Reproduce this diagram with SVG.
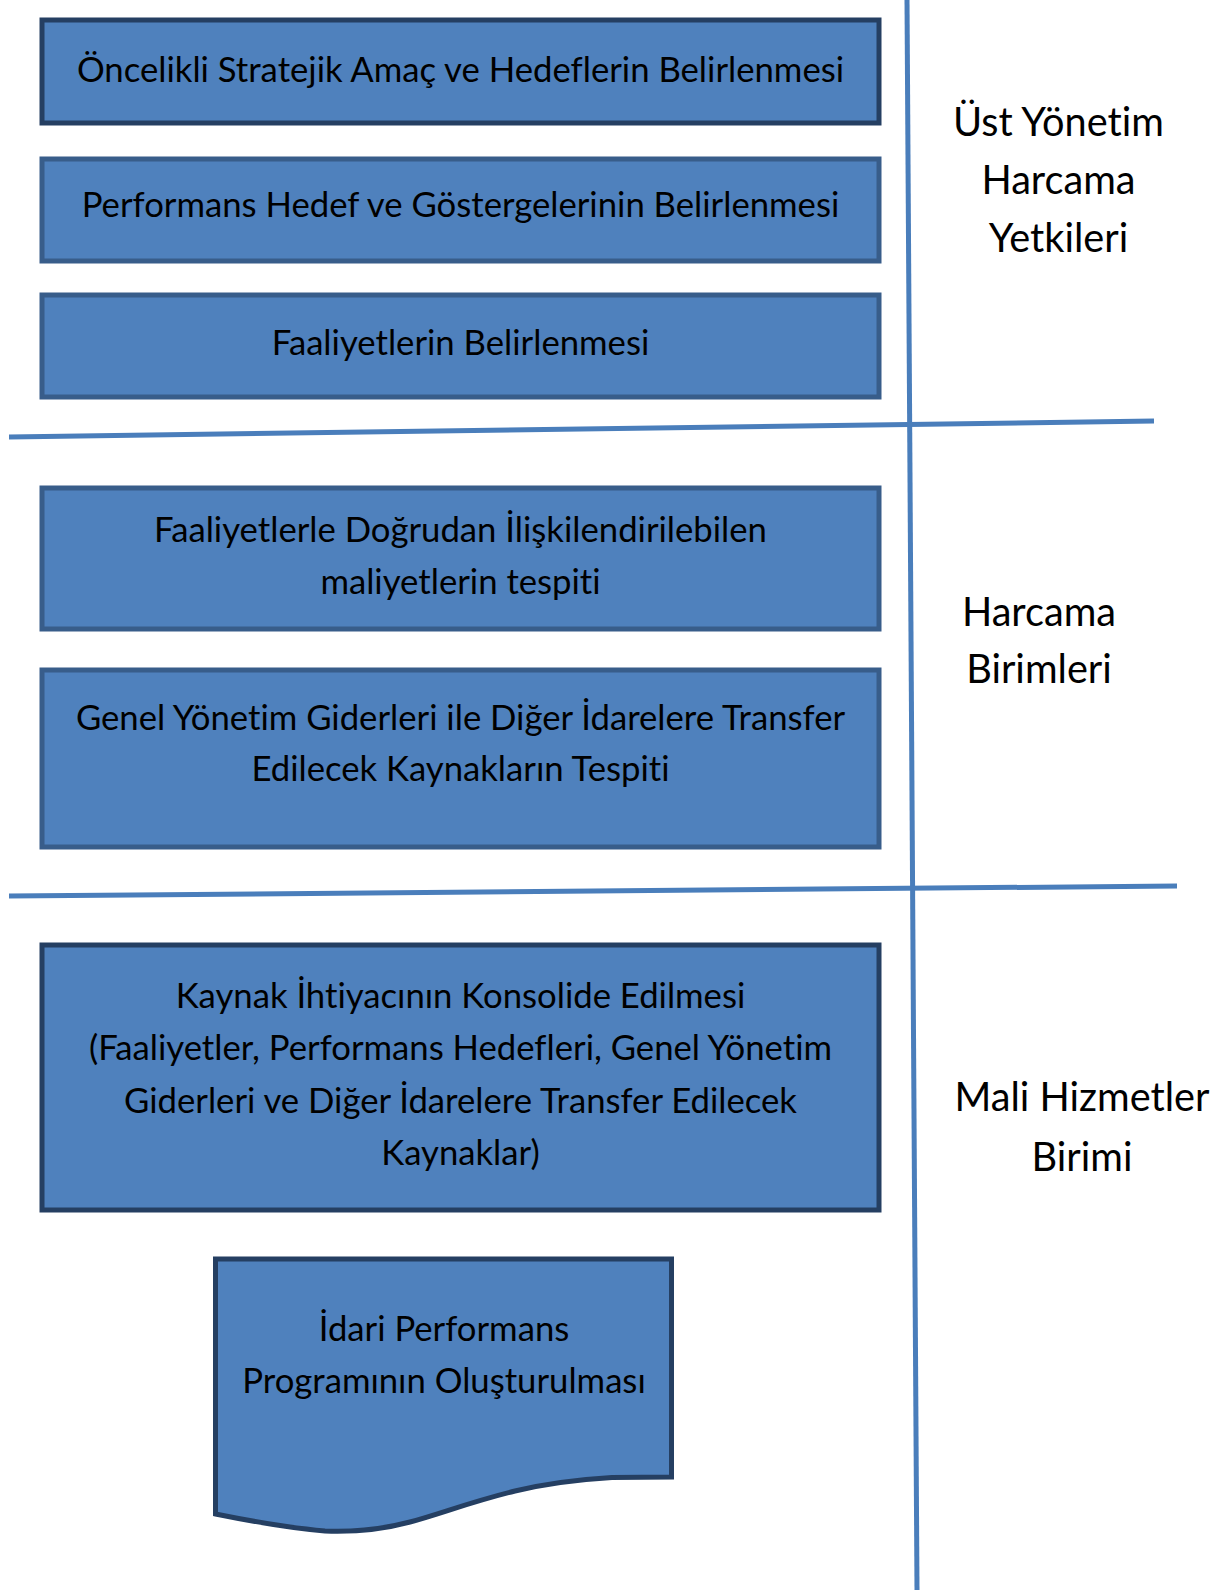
<svg xmlns="http://www.w3.org/2000/svg" width="1227" height="1590" viewBox="0 0 1227 1590">
<style>
.box{fill:#4F81BD;stroke:#385D8A;stroke-width:5}
.dark{stroke:#253F62}
.t{font-family:Lato,"Open Sans",sans-serif;font-size:34.7px;fill:#000;text-anchor:middle;font-variant-ligatures:none}
.lb{font-size:39.7px}
.ln{stroke:#4A7EBB;stroke-width:5;fill:none}
</style>
<rect width="1227" height="1590" fill="#fff"/>
<g id="connectors">
<line class="ln" x1="907" y1="0" x2="917" y2="1590"/>
<line class="ln" x1="9" y1="437" x2="1154" y2="421"/>
<line class="ln" x1="9" y1="896" x2="1177" y2="886"/>
</g>
<g id="n1"><rect class="box dark" x="42" y="20" width="837" height="103"/><text class="t" x="460.5" y="81.5">Öncelikli Stratejik Amaç ve Hedeflerin Belirlenmesi</text></g>
<g id="n2"><rect class="box" x="42" y="159" width="837" height="102"/><text class="t" x="460.5" y="217">Performans Hedef ve Göstergelerinin Belirlenmesi</text></g>
<g id="n3"><rect class="box" x="42" y="295" width="837" height="102"/><text class="t" x="460.5" y="355">Faaliyetlerin Belirlenmesi</text></g>
<g id="n4"><rect class="box" x="42" y="488" width="837" height="141"/><text class="t" x="460.5" y="542">Faaliyetlerle Doğrudan İlişkilendirilebilen</text><text class="t" x="460.5" y="593.5">maliyetlerin tespiti</text></g>
<g id="n5"><rect class="box" x="42" y="670" width="837" height="177"/><text class="t" x="460.5" y="729.5">Genel Yönetim Giderleri ile Diğer İdarelere Transfer</text><text class="t" x="460.5" y="781">Edilecek Kaynakların Tespiti</text></g>
<g id="n6"><rect class="box dark" x="42" y="945" width="837" height="265"/><text class="t" x="460.5" y="1008">Kaynak İhtiyacının Konsolide Edilmesi</text><text class="t" x="460.5" y="1060">(Faaliyetler, Performans Hedefleri, Genel Yönetim</text><text class="t" x="460.5" y="1112.5">Giderleri ve Diğer İdarelere Transfer Edilecek</text><text class="t" x="460.5" y="1164.5">Kaynaklar)</text></g>
<g id="n7"><path class="box dark" d="M215.5,1259 L671.5,1259 L671.5,1477 L612,1477.5 C570,1480 540,1485 515,1491 C470,1502 440,1514 410,1522 C380,1530 350,1532 325,1531 C290,1528 250,1521 215.5,1514 Z"/><text class="t" x="444" y="1341">İdari Performans</text><text class="t" x="444" y="1393">Programının Oluşturulması</text></g>
<g id="lab1"><text class="t lb" x="1058.5" y="135.5">Üst Yönetim</text><text class="t lb" x="1058.5" y="194">Harcama</text><text class="t lb" x="1058.5" y="251.5">Yetkileri</text></g>
<g id="lab2"><text class="t lb" x="1039" y="626">Harcama</text><text class="t lb" x="1039" y="683">Birimleri</text></g>
<g id="lab3"><text class="t lb" x="1082" y="1110.5">Mali Hizmetler</text><text class="t lb" x="1082" y="1171">Birimi</text></g>
</svg>
